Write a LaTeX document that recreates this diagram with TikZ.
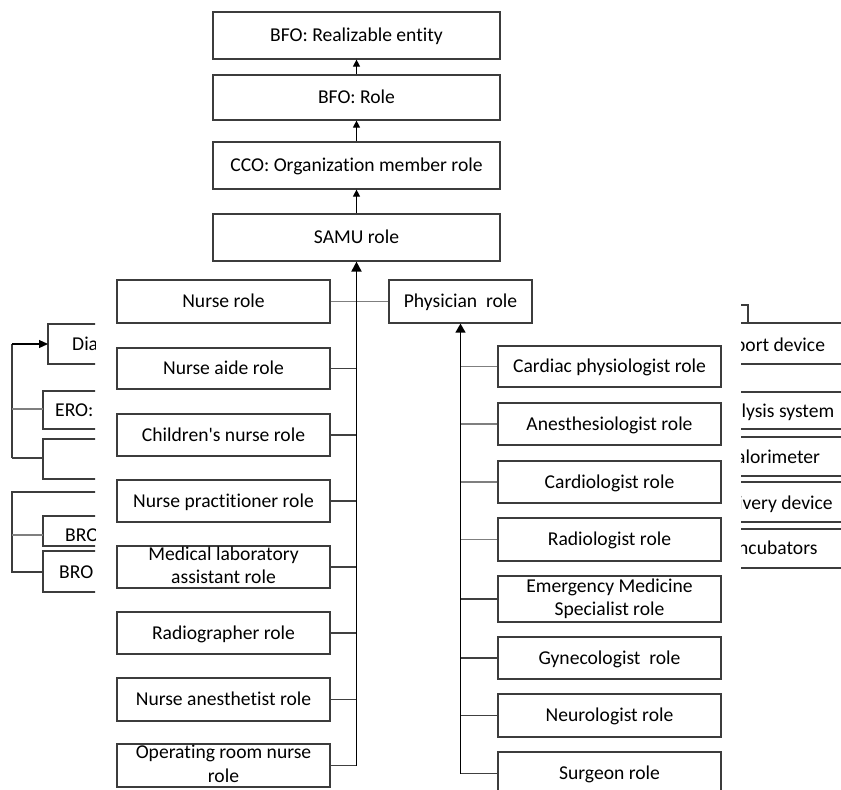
\documentclass[tikz,border=0pt]{standalone}
\usepackage{fontspec}
\setmainfont{Carlito}[Ligatures={NoCommon}]
\usetikzlibrary{arrows.meta}
\definecolor{edge}{HTML}{3C3C3C}
\definecolor{link}{HTML}{7F7F7F}
\definecolor{darklink}{HTML}{404040}
% strut that centres the capitals of a line in its box
\newcommand\capstrut{\rule[-3.4pt]{0pt}{19.4pt}}
\tikzset{
  lbl/.style={font=\fontsize{19.6}{23.5}\selectfont, text=black,
    execute at begin node=\capstrut, execute at end node=\capstrut},
  box/.style={lbl, draw=edge, line width=1.2pt, fill=white, inner sep=0pt, align=center},
  frag/.style={lbl, inner sep=0pt, anchor=west},
  up/.style={draw=black, line width=1.2pt, -{Triangle[width=7pt,length=7pt]}},
  bigup/.style={draw=black, line width=1.9pt, -{Triangle[width=10pt,length=10pt]}},
  midup/.style={draw=black, line width=1.3pt, -{Triangle[width=10pt,length=9pt]}},
  graylink/.style={draw=link, line width=1.3pt},
  darkline/.style={draw=darklink, line width=1.3pt},
  fragline/.style={draw=edge, line width=1.2pt},
}
\begin{document}
\begin{tikzpicture}[x=1pt,y=-1pt]
\useasboundingbox (0,0) rectangle (841,790);
\clip (0,0) rectangle (841,790);

% ---- upper chain ----
\node[box, minimum width=287pt, minimum height=47pt] (realizable) at (356.5,35.5) {BFO: Realizable entity};
\node[box, minimum width=287pt, minimum height=45pt] (role) at (356.5,97.5) {BFO: Role};
\node[box, minimum width=287pt, minimum height=47pt] (orgrole) at (356.5,165.5) {CCO: Organization member role};
\node[box, minimum width=287pt, minimum height=47pt] (samu) at (356.5,237.5) {SAMU role};

\draw[up] (role.north) -- (realizable.south);
\draw[up] (orgrole.north) -- (role.south);
\draw[up] (samu.north) -- (orgrole.south);

% ---- nurse column ----
\node[box, minimum width=213pt, minimum height=43pt] (nurse) at (223.5,301.5) {Nurse role};
\node[box, minimum width=213pt, minimum height=41pt] (aide) at (223.5,368.5) {Nurse aide role};
\node[box, minimum width=213pt, minimum height=42pt] (child) at (223.5,435) {Children\textquotesingle s nurse role};
\node[box, minimum width=213pt, minimum height=42pt] (practitioner) at (223.5,501) {Nurse practitioner role};
\node[box, minimum width=213pt, minimum height=42pt] (medlab) at (223.5,567) {Medical laboratory\\assistant role};
\node[box, minimum width=213pt, minimum height=42pt] (radiographer) at (223.5,633) {Radiographer role};
\node[box, minimum width=213pt, minimum height=43pt] (anesthetist) at (223.5,699.5) {Nurse anesthetist role};
\node[box, minimum width=213pt, minimum height=43pt] (opnurse) at (223.5,765.5) {Operating room nurse\\role};

% ---- physician column ----
\node[box, minimum width=143pt, minimum height=43pt] (physician) at (460.5,301.5) {Physician\ \ role};
\node[box, minimum width=223pt, minimum height=41pt] (cardphys) at (609.5,366.5) {Cardiac physiologist role};
\node[box, minimum width=223pt, minimum height=42pt] (anesth) at (609.5,424) {Anesthesiologist role};
\node[box, minimum width=223pt, minimum height=42pt] (cardio) at (609.5,482) {Cardiologist role};
\node[box, minimum width=223pt, minimum height=43pt] (radio) at (609.5,539.5) {Radiologist role};
\node[box, minimum width=223pt, minimum height=46pt] (emerg) at (609.5,599) {Emergency Medicine\\Specialist role};
\node[box, minimum width=223pt, minimum height=42pt] (gyn) at (609.5,658) {Gynecologist\ \ role};
\node[box, minimum width=223pt, minimum height=43pt] (neuro) at (609.5,715.5) {Neurologist role};
\node[box, minimum width=223pt, minimum height=43pt] (surgeon) at (609.5,773.5) {Surgeon role};

% ---- nurse trunk ----
\coordinate (tkend) at (samu.south |- opnurse.east);
\draw[graylink] (nurse.east) -- (physician.west);
\foreach \n in {aide,child,practitioner,medlab,radiographer,anesthetist,opnurse}
  \draw[darkline] (\n.east) -- (\n.east -| samu.south);
\draw[bigup] (tkend) -- (samu.south);

% ---- physician trunk ----
\coordinate (ptend) at (physician.south |- surgeon.west);
\foreach \n in {cardphys,anesth,cardio,radio}
  \draw[graylink] (\n.west) -- (\n.west -| physician.south);
\foreach \n in {emerg,gyn,neuro,surgeon}
  \draw[darkline] (\n.west) -- (\n.west -| physician.south);
\draw[midup] (ptend) -- (physician.south);

% ---- partial diagram at the left edge ----
\begin{scope}
  \clip (0,0) rectangle (95,790);
  \draw[fragline] (48,324) rectangle (140,364);
  \draw[fragline] (43,391) rectangle (140,429);
  \draw[fragline] (43,439) rectangle (140,479);
  \draw[fragline] (43,516) rectangle (140,546);
  \draw[fragline] (43,551) rectangle (140,592);
  \node[frag] (dia) at (72,344) {Dia};
  \node[frag] (ero) at (55,410) {ERO:};
  \node[frag] (bro1) at (65,535) {BRO};
  \node[frag] (bro2) at (59,572) {BRO};
  \coordinate (la) at (12,344);
  \coordinate (lb) at (12,409);
  \coordinate (lc) at (12,458);
  \coordinate (ld) at (12,492);
  \coordinate (le) at (12,535);
  \coordinate (lf) at (12,572);
  \draw[fragline] (lc) -- (la);
  \draw[draw=black, line width=1.2pt, -{Triangle[width=8pt,length=9pt]}] (la) -- (48,344);
  \draw[graylink] (lb) -- (43,409);
  \draw[darkline] (lc) -- (43,458);
  \draw[fragline] (140,492) -- (ld) -- (lf) -- (43,572);
  \draw[graylink] (le) -- (43,535);
\end{scope}

% ---- partial diagram at the right edge ----
\begin{scope}
  \clip (741,0) rectangle (841,790);
  \draw[fragline] (735,305) -- (748,305) -- (748,323);
  \draw[fragline] (730,323) rectangle (860,364);
  \draw[fragline] (730,392) rectangle (860,429);
  \draw[fragline] (730,437) rectangle (860,476);
  \draw[fragline] (730,482) rectangle (860,522);
  \draw[fragline] (730,529) rectangle (860,568);
  \node[frag] (rf1) at (735,345) {port device};
  \node[frag] (rf2) at (732,411) {alysis system};
  \node[frag] (rf3) at (736,457) {alorimeter};
  \node[frag] (rf4) at (738,503) {ivery device};
  \node[frag] (rf5) at (738,548) {ncubators};
\end{scope}
\end{tikzpicture}
\end{document}
